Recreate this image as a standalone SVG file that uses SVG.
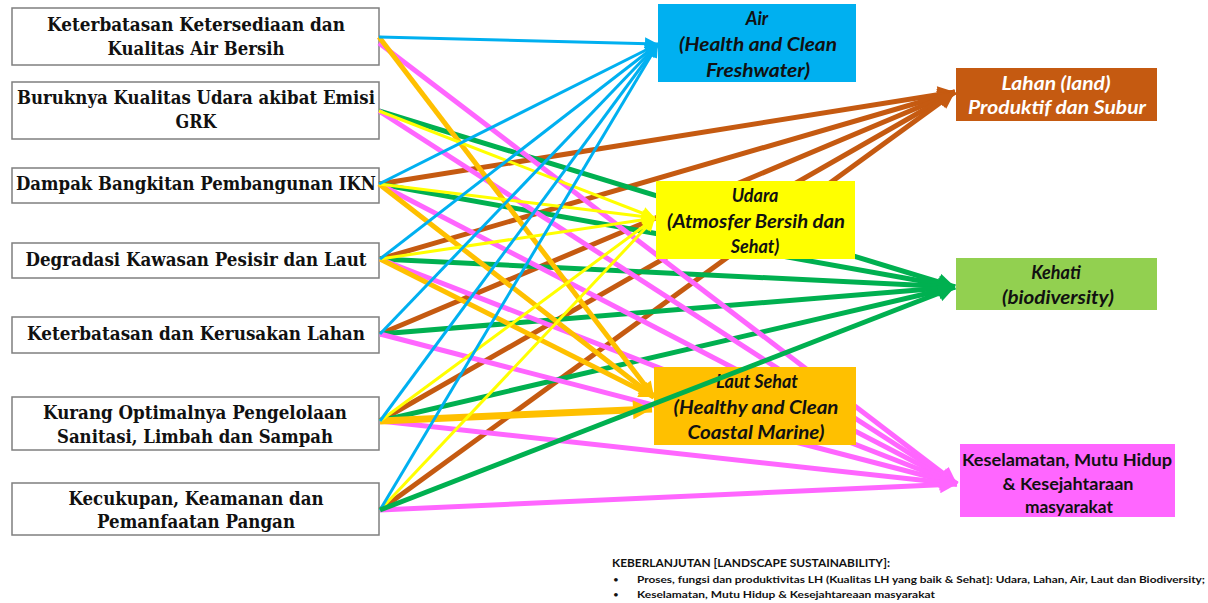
<svg xmlns="http://www.w3.org/2000/svg" width="1208" height="603" viewBox="0 0 1208 603">
  <defs>
    <style>
      .src rect { fill: #ffffff; stroke: #7f7f7f; stroke-width: 1.5; }
      .src text { font-family: "DejaVu Serif", "Liberation Serif", serif; font-weight: bold; font-size: 18px; fill: #111111; text-anchor: middle; }
      .tgt text { font-family: Lato, "Liberation Sans", sans-serif; font-weight: bold; font-style: italic; font-size: 18px; fill: #111111; text-anchor: middle; }
      .tgt.light text { fill: #ffffff; }
      .tgt.upright text { font-style: normal; font-size: 17px; }
      .ln { fill: none; stroke-linecap: butt; }
      .blue { stroke: #00b0f0; stroke-width: 3; marker-end: url(#ah-blue); }
      .yellow { stroke: #ffff00; stroke-width: 3; marker-end: url(#ah-yellow); }
      .brown { stroke: #c55a11; stroke-width: 5; marker-end: url(#ah-brown); }
      .green { stroke: #00b050; stroke-width: 5; marker-end: url(#ah-green); }
      .pink { stroke: #ff66ff; stroke-width: 5; marker-end: url(#ah-pink); }
      .orange { stroke: #ffc000; stroke-width: 5; marker-end: url(#ah-orange); }
      .orange.wide { stroke-width: 7; marker-end: url(#ah-orange-big); }
      .note { font-family: Lato, "Liberation Sans", sans-serif; fill: #111111; }
    </style>
    <marker id="ah-blue" viewBox="0 0 10 10" refX="10" refY="5" markerUnits="userSpaceOnUse" markerWidth="14" markerHeight="13" orient="auto"><path d="M0,0 L10,5 L0,10 z" fill="#00b0f0"/></marker>
    <marker id="ah-yellow" viewBox="0 0 10 10" refX="10" refY="5" markerUnits="userSpaceOnUse" markerWidth="14" markerHeight="13" orient="auto"><path d="M0,0 L10,5 L0,10 z" fill="#ffff00"/></marker>
    <marker id="ah-brown" viewBox="0 0 10 10" refX="10" refY="5" markerUnits="userSpaceOnUse" markerWidth="18" markerHeight="17" orient="auto"><path d="M0,0 L10,5 L0,10 z" fill="#c55a11"/></marker>
    <marker id="ah-green" viewBox="0 0 10 10" refX="10" refY="5" markerUnits="userSpaceOnUse" markerWidth="18" markerHeight="17" orient="auto"><path d="M0,0 L10,5 L0,10 z" fill="#00b050"/></marker>
    <marker id="ah-pink" viewBox="0 0 10 10" refX="10" refY="5" markerUnits="userSpaceOnUse" markerWidth="18" markerHeight="17" orient="auto"><path d="M0,0 L10,5 L0,10 z" fill="#ff66ff"/></marker>
    <marker id="ah-orange" viewBox="0 0 10 10" refX="10" refY="5" markerUnits="userSpaceOnUse" markerWidth="16" markerHeight="15" orient="auto"><path d="M0,0 L10,5 L0,10 z" fill="#ffc000"/></marker>
    <marker id="ah-orange-big" viewBox="0 0 10 10" refX="10" refY="5" markerUnits="userSpaceOnUse" markerWidth="20" markerHeight="19" orient="auto"><path d="M0,0 L10,5 L0,10 z" fill="#ffc000"/></marker>
  </defs>

  <rect width="1208" height="603" fill="#ffffff"/>

  <!-- source issues -->
  <g id="src-air-bersih" class="src">
    <rect x="12" y="8" width="367" height="57"/>
    <text x="196" y="31" textLength="298" lengthAdjust="spacingAndGlyphs">Keterbatasan Ketersediaan dan</text>
    <text x="196" y="55" textLength="177" lengthAdjust="spacingAndGlyphs">Kualitas Air Bersih</text>
  </g>
  <g id="src-udara" class="src">
    <rect x="12" y="82" width="367" height="57"/>
    <text x="196" y="104" textLength="358" lengthAdjust="spacingAndGlyphs">Buruknya Kualitas Udara akibat Emisi</text>
    <text x="196" y="128" textLength="41" lengthAdjust="spacingAndGlyphs">GRK</text>
  </g>
  <g id="src-ikn" class="src">
    <rect x="12" y="168" width="367" height="35"/>
    <text x="196" y="190" textLength="360" lengthAdjust="spacingAndGlyphs">Dampak Bangkitan Pembangunan IKN</text>
  </g>
  <g id="src-pesisir" class="src">
    <rect x="12" y="243" width="367" height="35"/>
    <text x="196" y="266" textLength="341" lengthAdjust="spacingAndGlyphs">Degradasi Kawasan Pesisir dan Laut</text>
  </g>
  <g id="src-lahan" class="src">
    <rect x="12" y="317" width="367" height="36"/>
    <text x="196" y="340" textLength="338" lengthAdjust="spacingAndGlyphs">Keterbatasan dan Kerusakan Lahan</text>
  </g>
  <g id="src-sanitasi" class="src">
    <rect x="12" y="397" width="367" height="53"/>
    <text x="195" y="419" textLength="304" lengthAdjust="spacingAndGlyphs">Kurang Optimalnya Pengelolaan</text>
    <text x="195" y="443" textLength="276" lengthAdjust="spacingAndGlyphs">Sanitasi, Limbah dan Sampah</text>
  </g>
  <g id="src-pangan" class="src">
    <rect x="12" y="483" width="367" height="52"/>
    <text x="196" y="505" textLength="255" lengthAdjust="spacingAndGlyphs">Kecukupan, Keamanan dan</text>
    <text x="196" y="528" textLength="198" lengthAdjust="spacingAndGlyphs">Pemanfaatan Pangan</text>
  </g>

  <!-- connectors -->
  <g id="connectors" class="ln">
    <!-- to Lahan -->
    <line class="brown" x1="379" y1="184" x2="955" y2="92"/>
    <line class="brown" x1="380" y1="259" x2="955" y2="92"/>
    <line class="brown" x1="380" y1="334" x2="955" y2="92"/>
    <line class="brown" x1="380" y1="421" x2="955" y2="92"/>
    <line class="brown" x1="380" y1="510" x2="955" y2="92"/>
    <!-- to Kehati -->
    <line class="green" x1="379" y1="111" x2="955" y2="287"/>
    <line class="green" x1="379" y1="184" x2="955" y2="287"/>
    <line class="green" x1="380" y1="259" x2="955" y2="287"/>
    <line class="green" x1="380" y1="334" x2="955" y2="287"/>
    <line class="green" x1="380" y1="421" x2="955" y2="287"/>
    <!-- to Keselamatan -->
    <line class="pink" x1="379" y1="43" x2="957" y2="484"/>
    <line class="pink" x1="379" y1="111" x2="957" y2="484"/>
    <line class="pink" x1="379" y1="184" x2="957" y2="484"/>
    <line class="pink" x1="380" y1="259" x2="957" y2="484"/>
    <line class="pink" x1="380" y1="334" x2="957" y2="484"/>
    <line class="pink" x1="380" y1="421" x2="957" y2="484"/>
    <line class="pink" x1="380" y1="510" x2="957" y2="484"/>
    <!-- to Laut Sehat -->
    <line class="orange" x1="379" y1="37" x2="654" y2="397"/>
    <line class="orange" x1="379" y1="184" x2="654" y2="397"/>
    <line class="orange" x1="380" y1="259" x2="654" y2="397"/>
    <line class="orange wide" x1="380" y1="421" x2="652" y2="409"/>
    <!-- to Udara -->
    <line class="yellow" x1="379" y1="111" x2="655" y2="218"/>
    <line class="yellow" x1="379" y1="184" x2="655" y2="218"/>
    <line class="yellow" x1="380" y1="259" x2="655" y2="218"/>
    <line class="yellow" x1="380" y1="421" x2="655" y2="218"/>
    <line class="yellow" x1="380" y1="510" x2="655" y2="218"/>
    <!-- to Air -->
    <line class="blue" x1="379" y1="37" x2="658" y2="44"/>
    <line class="blue" x1="379" y1="184" x2="658" y2="44"/>
    <line class="blue" x1="380" y1="259" x2="658" y2="44"/>
    <line class="blue" x1="380" y1="334" x2="658" y2="44"/>
    <line class="blue" x1="380" y1="421" x2="658" y2="44"/>
    <line class="blue" x1="380" y1="510" x2="658" y2="44"/>
  </g>

  <!-- outcome nodes -->
  <g id="tgt-air" class="tgt">
    <rect x="658" y="4" width="198" height="78" fill="#00b0f0"/>
    <text x="757" y="25">Air</text>
    <text x="758" y="51" textLength="158" lengthAdjust="spacingAndGlyphs">(Health and  Clean</text>
    <text x="758" y="77" textLength="104" lengthAdjust="spacingAndGlyphs">Freshwater)</text>
  </g>
  <g id="tgt-lahan" class="tgt light">
    <rect x="956" y="68" width="201" height="53" fill="#c55a11"/>
    <text x="1056" y="90" textLength="109" lengthAdjust="spacingAndGlyphs">Lahan (land)</text>
    <text x="1057" y="114" textLength="178" lengthAdjust="spacingAndGlyphs">Produktif dan  Subur</text>
  </g>
  <g id="tgt-udara" class="tgt">
    <rect x="656" y="181" width="199" height="78" fill="#ffff00"/>
    <text x="755" y="202">Udara</text>
    <text x="756" y="228" textLength="178" lengthAdjust="spacingAndGlyphs">(Atmosfer Bersih dan</text>
    <text x="755" y="253">Sehat)</text>
  </g>
  <g id="tgt-kehati" class="tgt">
    <rect x="956" y="258" width="201" height="52" fill="#92d050"/>
    <text x="1056" y="279">Kehati</text>
    <text x="1058" y="304" textLength="112" lengthAdjust="spacingAndGlyphs">(biodiversity)</text>
  </g>
  <g id="tgt-laut" class="tgt">
    <rect x="654" y="367" width="202" height="78" fill="#ffc000"/>
    <text x="757" y="388">Laut Sehat</text>
    <text x="756" y="414" textLength="165" lengthAdjust="spacingAndGlyphs">(Healthy and Clean</text>
    <text x="756" y="439" textLength="137" lengthAdjust="spacingAndGlyphs">Coastal Marine)</text>
  </g>
  <g id="tgt-keselamatan" class="tgt upright">
    <rect x="960" y="444" width="215" height="73" fill="#ff66ff"/>
    <text x="1067" y="466" textLength="210" lengthAdjust="spacingAndGlyphs">Keselamatan, Mutu Hidup</text>
    <text x="1068" y="490" textLength="131" lengthAdjust="spacingAndGlyphs">&amp; Kesejahtaraan</text>
    <text x="1069" y="513" textLength="88" lengthAdjust="spacingAndGlyphs">masyarakat</text>
  </g>

  <!-- link that runs across the Laut Sehat box -->
  <g id="connectors-front" class="ln">
    <line class="green" x1="380" y1="510" x2="955" y2="287"/>
  </g>

  <!-- sustainability note -->
  <g id="note">
    <text class="note" x="612" y="567" font-size="11" font-weight="bold" textLength="278" lengthAdjust="spacingAndGlyphs">KEBERLANJUTAN [LANDSCAPE SUSTAINABILITY]:</text>
    <text class="note" x="613" y="583" font-size="10">•</text>
    <text class="note" x="637" y="583" font-size="10" font-weight="bold" textLength="568" lengthAdjust="spacingAndGlyphs">Proses, fungsi dan produktivitas LH (Kualitas LH yang baik &amp; Sehat]: Udara, Lahan, Air, Laut dan Biodiversity;</text>
    <text class="note" x="613" y="598" font-size="10">•</text>
    <text class="note" x="637" y="598" font-size="10" font-weight="bold" textLength="298" lengthAdjust="spacingAndGlyphs">Keselamatan, Mutu Hidup &amp; Kesejahtareaan  masyarakat</text>
  </g>
</svg>
